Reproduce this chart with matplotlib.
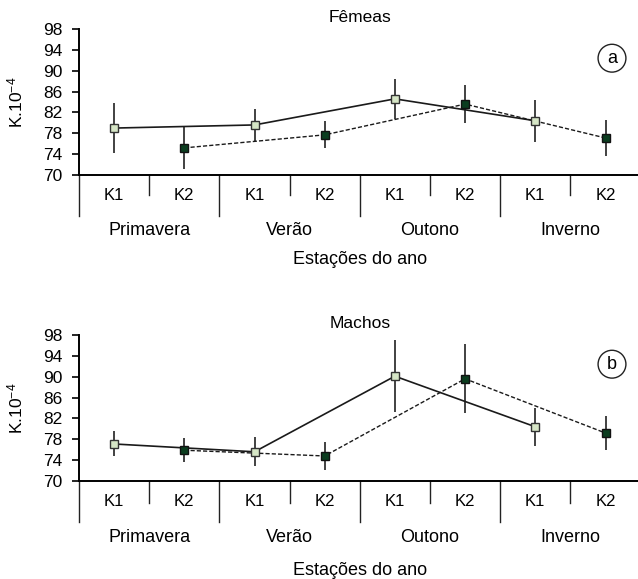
import matplotlib
matplotlib.use('Agg')
import matplotlib.pyplot as plt
import numpy as np

plt.rcParams['font.family'] = ['Liberation Sans', 'DejaVu Sans']
plt.rcParams['mathtext.fontset'] = 'custom'
plt.rcParams['mathtext.rm'] = 'Liberation Sans'
plt.rcParams['mathtext.it'] = 'Liberation Sans:italic'

seasons = ['Primavera', 'Verão', 'Outono', 'Inverno']
groups = ['K1', 'K2']
yticks = [70, 74, 78, 82, 86, 90, 94, 98]

# Fêmeas
fem_k1 = [79.0, 79.6, 84.6, 80.4]
fem_k1_err = [4.8, 3.0, 3.8, 4.0]
fem_k2 = [75.2, 77.7, 83.6, 77.1]
fem_k2_err = [4.0, 2.6, 3.6, 3.5]

# Machos
mac_k1 = [77.1, 75.6, 90.1, 80.4]
mac_k1_err = [2.4, 2.8, 6.9, 3.6]
mac_k2 = [75.9, 74.8, 89.6, 79.2]
mac_k2_err = [2.3, 2.6, 6.6, 3.2]

W, H = 638, 579
fig = plt.figure(figsize=(W / 100, H / 100), dpi=100)


def panel(y_bottom, title, tag, k1, k1e, k2, k2e, lbl_off):
    ax = fig.add_axes([79 / W, 1 - y_bottom / H, 559 / W, 146 / H])
    x1 = np.arange(len(seasons)) * 2
    x2 = x1 + 1
    ax.errorbar(x1, k1, yerr=k1e, fmt='none', ecolor='#333333', elinewidth=1.3, capsize=0, zorder=2)
    ax.errorbar(x2, k2, yerr=k2e, fmt='none', ecolor='#333333', elinewidth=1.3, capsize=0, zorder=2)
    ax.plot(x1, k1, '-', color='#1a1a1a', lw=1.2, zorder=3)
    ax.plot(x2, k2, '--', color='#1a1a1a', lw=1.0, dashes=(3, 1.5), zorder=3)
    ax.plot(x1, k1, 's', ms=5.5, mfc='#d6e6c6', mec='#333333', mew=1.0, zorder=4)
    ax.plot(x2, k2, 's', ms=5.5, mfc='#0b3d1f', mec='#111111', mew=1.0, zorder=4)

    ax.set_xlim(-0.5, -0.5 + 559 / 70.2)
    ax.set_ylim(70, 98)
    ax.set_yticks(yticks)
    ax.set_xticks([])
    ax.tick_params(axis='y', direction='out', length=5, width=1.2, labelsize=12.5, pad=7)
    for s in ['top', 'right']:
        ax.spines[s].set_visible(False)
    ax.spines['left'].set_linewidth(1.4)
    ax.spines['bottom'].set_linewidth(1.4)

    tr = ax.get_xaxis_transform()
    for i in range(8):
        b = i - 0.5
        if i % 2 == 0:
            ax.plot([b, b], [0, -0.281], color='#222222', lw=1.0, transform=tr, clip_on=False)
        else:
            ax.plot([b, b], [0, -lbl_off[0]], color='#222222', lw=1.0, transform=tr, clip_on=False)
        ax.text(i, -0.137, groups[i % 2], transform=tr, ha='center', va='center', fontsize=12)
    for j, s in enumerate(seasons):
        ax.text(2 * j + 0.5, -lbl_off[1], s, transform=tr, ha='center', va='center', fontsize=13)
    ax.text(3.5, -lbl_off[2], 'Estações do ano', transform=tr, ha='center', va='center', fontsize=13)

    ax.set_ylabel(r'K.10$^{-4}$', fontsize=12.5, labelpad=0)
    ax.yaxis.set_label_coords(-0.0966, 0.5)
    ax.text((360 - 79) / 559, 1.08, title, transform=ax.transAxes, ha='center', va='center', fontsize=12.5)
    ax.text((612 - 79) / 559, 0.8, tag, transform=ax.transAxes, ha='center', va='center', fontsize=13,
            bbox=dict(boxstyle='circle,pad=0.3', fc='white', ec='#222222', lw=1.0))
    return ax


panel(175, 'Fêmeas', 'a', fem_k1, fem_k1_err, fem_k2, fem_k2_err, (0.137, 0.377, 0.58))
panel(481, 'Machos', 'b', mac_k1, mac_k1_err, mac_k2, mac_k2_err, (0.15, 0.384, 0.61))

fig.savefig('out.png', dpi=100)
